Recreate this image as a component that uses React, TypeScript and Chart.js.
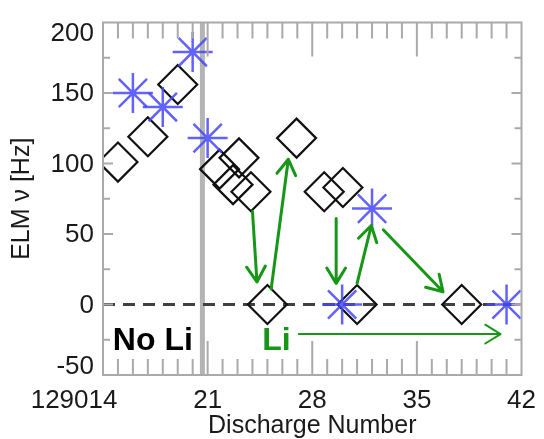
import React, { useEffect, useRef } from "react";
import { Chart, registerables } from "chart.js";

Chart.register(...registerables);

// ---- data ----
const diamondX = [15, 17, 19, 21.8, 23.1, 22.7, 23.9, 25, 26.95, 28.8, 30.05, 31, 38];
const diamondY = [101, 119, 156, 96, 104, 85, 80, 0, 118, 80, 83, 0, 0];
const starX = [16, 18, 20, 21, 30, 32, 41];
const starY = [150, 140, 179, 118, 0, 68, 0];
const arrowFromX = [24.0, 25.25, 29.6, 31.0, 32.75, 27.1];
const arrowFromY = [66, 11, 61, 15, 53, -21];
const arrowToX = [24.3, 26.4, 29.6, 31.95, 36.75, 40.6];
const arrowToY = [16, 103, 15, 56, 9, -21];
const arrowWidths = [3, 3, 3, 3, 3, 2];
const xRange = [14, 42];
const yRange = [-50, 200];
const xTickValues = [14, 21, 28, 35, 42];
const xTickLabels = ["129014", "21", "28", "35", "42"];
const yTickValues = [-50, 0, 50, 100, 150, 200];
const yTickLabels = ["-50", "0", "50", "100", "150", "200"];
const dividerX = 20.65;
const noteTexts = ["No Li", "Li"];
const noteX = [14.66, 24.65];
const noteY = [-32, -32];
const noteColors = ["#000000", "#179617"];
const xTitle = "Discharge Number";
const yTitle = "ELM \u03bd [Hz]";

const GREEN = "#179617";
const FRAME = "#aaaaaa";
const FONT = "'Liberation Sans', Arial, sans-serif";

const overlay = {
  id: "overlay",
  afterDraw(chart: any) {
    const ctx = chart.ctx as CanvasRenderingContext2D;
    const { left, right, top, bottom } = chart.chartArea;
    const xs = chart.scales.x;
    const ys = chart.scales.y;
    ctx.save();

    // frame
    ctx.strokeStyle = FRAME;
    ctx.lineWidth = 2;
    ctx.strokeRect(left, top, right - left, bottom - top);

    // x ticks (inward)
    for (let v = xRange[0] + 1; v < xRange[1]; v++) {
      const px = xs.getPixelForValue(v);
      const len = v % 7 === 0 ? 34 : 16;
      ctx.beginPath();
      ctx.moveTo(px, bottom);
      ctx.lineTo(px, bottom - len);
      ctx.moveTo(px, top);
      ctx.lineTo(px, top + len);
      ctx.stroke();
    }
    // y ticks (inward)
    for (let v = yRange[0] + 25; v < yRange[1]; v += 25) {
      const py = ys.getPixelForValue(v);
      const len = v % 50 === 0 ? 10 : 7;
      ctx.beginPath();
      ctx.moveTo(left, py);
      ctx.lineTo(left + len, py);
      ctx.moveTo(right, py);
      ctx.lineTo(right - len, py);
      ctx.stroke();
    }

    // tick labels
    ctx.fillStyle = "#1a1a1a";
    ctx.font = `26px ${FONT}`;
    ctx.textBaseline = "alphabetic";
    xTickValues.forEach((v, i) => {
      const px = xs.getPixelForValue(v);
      const lab = xTickLabels[i];
      if (lab.length > 2) {
        const tail = lab.slice(-2);
        const w = ctx.measureText(tail).width;
        ctx.textAlign = "right";
        ctx.fillText(lab, px + w / 2, bottom + 33);
      } else {
        ctx.textAlign = "center";
        ctx.fillText(lab, px, bottom + 33);
      }
    });
    ctx.textAlign = "right";
    ctx.textBaseline = "middle";
    yTickValues.forEach((v, i) => {
      let py = ys.getPixelForValue(v);
      py = Math.max(top + 10, Math.min(bottom - 9, py));
      ctx.fillText(yTickLabels[i], left - 9, py + 1);
    });

    // titles
    ctx.font = `25px ${FONT}`;
    ctx.textAlign = "center";
    ctx.textBaseline = "alphabetic";
    ctx.fillText(xTitle, (left + right) / 2, bottom + 58);
    ctx.save();
    ctx.translate(22, (top + bottom) / 2);
    ctx.rotate(-Math.PI / 2);
    ctx.textBaseline = "middle";
    ctx.fillText(yTitle, 0, 0);
    ctx.restore();

    // arrows
    ctx.strokeStyle = GREEN;
    ctx.lineCap = "round";
    ctx.lineJoin = "round";
    arrowFromX.forEach((fx, i) => {
      const x1 = xs.getPixelForValue(fx);
      const y1 = ys.getPixelForValue(arrowFromY[i]);
      const x2 = xs.getPixelForValue(arrowToX[i]);
      const y2 = ys.getPixelForValue(arrowToY[i]);
      const a = Math.atan2(y2 - y1, x2 - x1);
      const hl = 18;
      const ha = 0.55;
      ctx.lineWidth = arrowWidths[i];
      ctx.beginPath();
      ctx.moveTo(x1, y1);
      ctx.lineTo(x2, y2);
      ctx.moveTo(x2 - hl * Math.cos(a - ha), y2 - hl * Math.sin(a - ha));
      ctx.lineTo(x2, y2);
      ctx.lineTo(x2 - hl * Math.cos(a + ha), y2 - hl * Math.sin(a + ha));
      ctx.stroke();
    });

    // notes
    ctx.font = `bold 32px ${FONT}`;
    ctx.textAlign = "left";
    ctx.textBaseline = "alphabetic";
    noteTexts.forEach((t, i) => {
      ctx.fillStyle = noteColors[i];
      ctx.fillText(t, xs.getPixelForValue(noteX[i]), ys.getPixelForValue(noteY[i]));
    });

    ctx.restore();
  },
};

export default function App() {
  const ref = useRef<HTMLCanvasElement | null>(null);
  useEffect(() => {
    document.body.style.margin = "0";
    const canvas = ref.current;
    if (!canvas) return;
    const chart = new Chart(canvas, {
      type: "scatter",
      data: {
        datasets: [
          {
            label: "asterisks",
            data: starX.map((x, i) => ({ x, y: starY[i] })),
            pointStyle: "star",
            pointRadius: 20,
            pointBorderWidth: 2.5,
            borderColor: "rgba(70,70,255,0.85)",
            backgroundColor: "rgba(70,70,255,0.85)",
            order: 0,
          },
          {
            label: "diamonds",
            data: diamondX.map((x, i) => ({ x, y: diamondY[i] })),
            pointStyle: "rectRot",
            pointRadius: 19.5,
            pointBorderWidth: 2.2,
            borderColor: "#111111",
            backgroundColor: "rgba(0,0,0,0)",
            order: 1,
          },
          {
            label: "zero",
            data: [
              { x: xRange[0], y: 0 },
              { x: xRange[1], y: 0 },
            ],
            showLine: true,
            pointRadius: 0,
            borderColor: "#404040",
            borderWidth: 3,
            borderDash: [12, 8],
            order: 2,
          },
          {
            label: "divider",
            data: [
              { x: dividerX, y: yRange[0] },
              { x: dividerX, y: yRange[1] },
            ],
            showLine: true,
            pointRadius: 0,
            borderColor: "#b4b4b4",
            borderWidth: 5,
            order: 3,
          },
        ],
      },
      options: {
        animation: false,
        responsive: false,
        events: [],
        layout: { padding: { left: 103, right: 15, top: 15, bottom: 64 } },
        scales: {
          x: { type: "linear", min: xRange[0], max: xRange[1], display: false },
          y: { type: "linear", min: yRange[0], max: yRange[1], display: false },
        },
        plugins: { legend: { display: false }, tooltip: { enabled: false } },
      },
      plugins: [overlay],
    });
    return () => chart.destroy();
  }, []);
  return (
    <div style={{ width: 544, height: 439, background: "#fff" }}>
      <canvas ref={ref} width={544} height={439} />
    </div>
  );
}
